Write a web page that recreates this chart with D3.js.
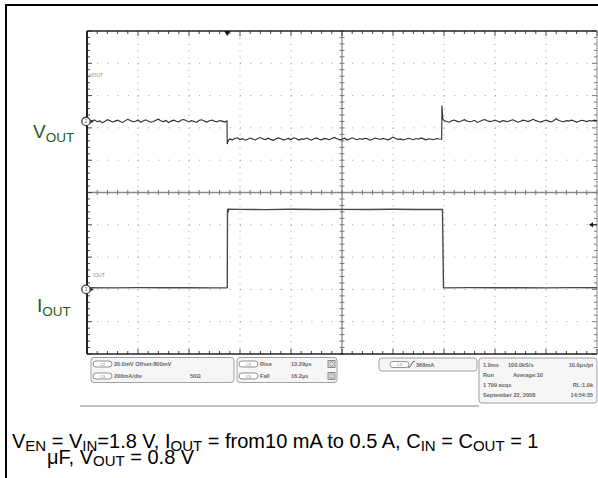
<!DOCTYPE html>
<html><head><meta charset="utf-8">
<script src="https://cdn.jsdelivr.net/npm/d3@7/dist/d3.min.js"></script>
<style>html,body{margin:0;padding:0;background:#fff;}svg{display:block;}</style>
</head><body><svg id="c" width="598" height="478"></svg>
<script>
// ---------------- DATA ----------------
// Time base: 1.0 ms/div, 10 divisions; times in ms from left edge of screen
const timePerDiv = 1.0;
const sampleStep = 0.05;        // ms between plotted samples
// CH2 (VOUT): 20 mV/div, offset 800 mV, marker at +2.2 div
const vPerDiv = 20, vOffset = 800, vPosition = 2.2;
// CH3 (IOUT): 200 mA/div, marker at -3 div
const iPerDiv = 200, iPosition = -3;
const triggerLevelDiv = -1.0;   // trigger arrow on right edge
const triggerTime = 2.75;       // trigger marker on top edge (ms)

// VOUT samples (mV): before load step (t = 0.00 .. 2.70 ms)
const voutSeg1Start = 0.0;
const voutSeg1 = [
  800.1,799.5,800.6,800.9,799.8,800.3,799.2,800.0,801.1,800.4,
  799.7,800.2,800.8,799.9,799.4,800.5,801.3,800.6,799.8,800.1,
  800.9,799.6,800.3,801.0,800.2,799.5,800.0,800.7,801.4,800.3,
  799.9,800.6,799.3,800.2,800.8,800.1,799.7,800.9,801.2,800.4,
  799.8,800.5,800.0,799.4,800.7,801.0,800.3,799.6,800.4,800.9,
  800.1,799.7,800.5,800.2,799.6];
// load-step transient (ms, mV)
const voutStepDownT = [2.745,2.75,2.76,2.78];
const voutStepDownV = [800.3,786.0,787.2,788.6];
// VOUT at 0.5 A (t = 2.80 .. 6.90 ms)
const voutSeg2Start = 2.8;
const voutSeg2 = [
  789.2,788.6,789.5,789.9,788.8,789.3,788.4,789.0,789.7,789.1,
  788.5,789.4,790.0,789.2,788.7,789.6,788.9,788.3,789.1,789.8,
  789.3,788.6,789.0,789.5,788.8,789.9,789.4,788.5,789.2,788.9,
  789.7,789.1,788.4,789.3,789.8,789.0,788.6,789.5,789.2,788.7,
  789.4,790.1,789.3,788.8,789.0,789.6,788.5,789.2,789.9,789.1,
  788.7,789.4,788.9,789.6,789.2,788.4,789.0,789.7,789.3,788.8,
  789.5,789.1,788.6,789.3,790.3,789.4,788.9,789.2,788.5,789.0,
  789.6,789.1,788.7,789.4,789.0,789.8,789.2,788.6,789.3,789.0,
  788.7,789.4,789.1];
// load-release transient
const voutStepUpT = [6.955,6.96,6.975];
const voutStepUpV = [789.0,809.8,801.6];
// VOUT after release (t = 7.00 .. 10.00 ms)
const voutSeg3Start = 7.0;
const voutSeg3 = [
  800.6,800.0,799.5,800.4,800.9,800.2,799.7,800.5,801.1,800.3,
  799.8,800.1,800.7,799.4,800.0,800.8,801.2,800.4,799.9,800.3,
  800.9,800.1,799.6,800.5,800.2,799.8,800.6,801.0,800.3,799.5,
  800.1,800.8,800.4,799.9,800.6,801.3,800.5,800.0,799.6,800.3,
  800.9,800.2,799.7,800.4,801.7,800.6,800.1,799.8,800.5,800.2,
  800.8,800.3,799.6,800.1,800.7,800.4,799.9,800.6,800.2,800.8,
  800.3];

const ioutTime = [0.0,0.5,1.0,1.5,2.0,2.5,2.74,2.75,2.755,2.765,2.78,3.0,3.5,4.0,4.5,5.0,5.5,6.0,6.5,6.95,6.97,6.99,7.0,7.5,8.0,8.5,9.0,9.5,10.0];
const ioutMa   = [10.5,9.6,10.8,9.9,10.6,9.7,10.3,12,500,478,496,495.5,494.2,496.0,494.8,495.6,494.5,495.9,494.7,495.3,494.8,10.8,9.5,10.7,9.8,10.4,9.6,10.9,10.1];

const chLabels = [ {main:"V", sub:"OUT"}, {main:"I", sub:"OUT"} ];
const caption1 = [["V",0],["EN",1],[" = V",0],["IN",1],["=1.8 V, I",0],["OUT",1],[" = from10 mA to 0.5 A, C",0],["IN",1],[" = C",0],["OUT",1],[" = 1",0]];
const caption2 = [["μF, V",0],["OUT",1],[" = 0.8 V",0]];
const box1Rows = [["C2","20.0mV  Offset:800mV",""],["C3","200mA/div","50Ω"]];
const box2Rows = [["C3","Rise","13.29μs"],["C3","Fall","16.2μs"]];
const box3Text = ["C3","368mA"];
const box4Rows = [["1.0ms","100.0kS/s","10.0μs/pt"],["Run","Average:10",""],["1 799 acqs","","RL:1.0k"],["September 22, 2008","","14:54:35"]];

// ---------------- DRAW ----------------
const svg = d3.select("#c");
const P = {l:87, r:597, t:31, b:354};
const xDiv = d3.scaleLinear().domain([0,10]).range([P.l,P.r]);
const yDiv = d3.scaleLinear().domain([-5,5]).range([P.b,P.t]);
const xT = d3.scaleLinear().domain([0,10*timePerDiv]).range([P.l,P.r]);
const yV = d3.scaleLinear().domain([vOffset-(5+vPosition)*vPerDiv, vOffset+(5-vPosition)*vPerDiv]).range([P.b,P.t]);
const yI = d3.scaleLinear().domain([-(5+iPosition)*iPerDiv, (5-iPosition)*iPerDiv]).range([P.b,P.t]);

// assemble VOUT record
const seg = (start, vals) => vals.map((v,i)=>[start+i*sampleStep, v]);
const voutPts = [].concat(
  seg(voutSeg1Start, voutSeg1),
  voutStepDownT.map((t,i)=>[t, voutStepDownV[i]]),
  seg(voutSeg2Start, voutSeg2),
  voutStepUpT.map((t,i)=>[t, voutStepUpV[i]]),
  seg(voutSeg3Start, voutSeg3));

// outer frame
svg.append("line").attr("x1",5).attr("x2",598).attr("y1",5).attr("y2",5).attr("stroke","#000").attr("stroke-width",2);
svg.append("line").attr("x1",6).attr("x2",6).attr("y1",4).attr("y2",478).attr("stroke","#000").attr("stroke-width",2);

const g = svg.append("g");
const majors = d3.range(1,10);
const minors = d3.range(0,50.5,1).map(d=>d/5);
const stepY = yDiv(0)-yDiv(0.2), stepX = xDiv(0.2)-xDiv(0);
// dotted grid
majors.filter(d=>d!==5).forEach(d=>{
  g.append("line").attr("x1",xDiv(d)).attr("x2",xDiv(d)).attr("y1",P.t).attr("y2",P.b)
   .attr("stroke","#9a9a9a").attr("stroke-width",1).attr("stroke-dasharray",`1 ${stepY-1}`);
});
majors.map(d=>d-5).filter(d=>d!==0).forEach(d=>{
  g.append("line").attr("x1",P.l).attr("x2",P.r).attr("y1",yDiv(d)).attr("y2",yDiv(d))
   .attr("stroke","#9a9a9a").attr("stroke-width",1).attr("stroke-dasharray",`1 ${stepX-1}`);
});
// center lines
g.append("line").attr("x1",P.l).attr("x2",P.r).attr("y1",yDiv(0)).attr("y2",yDiv(0)).attr("stroke","#8a8a8a").attr("stroke-width",1.3);
g.append("line").attr("x1",xDiv(5)).attr("x2",xDiv(5)).attr("y1",P.t).attr("y2",P.b).attr("stroke","#8a8a8a").attr("stroke-width",1.3);
minors.forEach(d=>{
  const x = xDiv(d);
  g.append("line").attr("x1",x).attr("x2",x).attr("y1",yDiv(0)-2.5).attr("y2",yDiv(0)+2.5).attr("stroke","#777");
  g.append("line").attr("x1",x).attr("x2",x).attr("y1",P.t).attr("y2",P.t+(d%1===0?5:3)).attr("stroke","#444");
  g.append("line").attr("x1",x).attr("x2",x).attr("y1",P.b).attr("y2",P.b-(d%1===0?5:3)).attr("stroke","#444");
  const y = yDiv(d-5);
  g.append("line").attr("y1",y).attr("y2",y).attr("x1",xDiv(5)-2.5).attr("x2",xDiv(5)+2.5).attr("stroke","#777");
  g.append("line").attr("y1",y).attr("y2",y).attr("x1",P.l).attr("x2",P.l+(d%1===0?5:3)).attr("stroke","#444");
  g.append("line").attr("y1",y).attr("y2",y).attr("x1",P.r).attr("x2",P.r-(d%1===0?5:3)).attr("stroke","#777");
});
// frame
g.append("line").attr("x1",P.l).attr("x2",P.r).attr("y1",P.t).attr("y2",P.t).attr("stroke","#222").attr("stroke-width",1.6);
g.append("line").attr("x1",P.l).attr("x2",P.r).attr("y1",P.b).attr("y2",P.b).attr("stroke","#222").attr("stroke-width",1.6);
g.append("line").attr("x1",P.l).attr("x2",P.l).attr("y1",P.t).attr("y2",P.b).attr("stroke","#222").attr("stroke-width",2);
g.append("line").attr("x1",P.r).attr("x2",P.r).attr("y1",P.t).attr("y2",P.b).attr("stroke","#888").attr("stroke-width",1);

// traces
const vLine = d3.line().x(d=>xT(d[0])).y(d=>yV(d[1]));
g.append("path").attr("d",vLine(voutPts)).attr("fill","none").attr("stroke","#2b2b2b").attr("stroke-width",1.1);
const iLine = d3.line().x((d,i)=>xT(ioutTime[i])).y(d=>yI(d));
g.append("path").attr("d",iLine(ioutMa)).attr("fill","none").attr("stroke","#4a4a4a").attr("stroke-width",1.4);

// small trace labels
const F = "Liberation Sans, Arial";
g.append("text").attr("x",P.l+2).attr("y",77).attr("font-family",F).attr("font-size",5).attr("fill","#888").text("VOUT");
g.append("text").attr("x",P.l+6).attr("y",yI(0)-12).attr("font-family",F).attr("font-size",5).attr("fill","#888").text("IOUT");

// channel markers
[[yV(vOffset),"2"],[yI(0),"3"]].forEach(([y,n])=>{
  g.append("path").attr("d",`M${P.l+2},${y-2.5}L${P.l+7},${y}L${P.l+2},${y+2.5}Z`).attr("fill","#333");
  g.append("circle").attr("cx",P.l-1).attr("cy",y).attr("r",4.2).attr("fill","#fff").attr("stroke","#444").attr("stroke-width",1.3);
  g.append("text").attr("x",P.l-1).attr("y",y+1.6).attr("text-anchor","middle").attr("font-size",4.5).attr("font-family",F).attr("fill","#666").text(n);
});
// trigger markers
const tx = xT(triggerTime);
g.append("path").attr("d",`M${tx-3},${P.t}L${tx+3},${P.t}L${tx},${P.t+5}Z`).attr("fill","#111");
const ty = yDiv(triggerLevelDiv);
g.append("path").attr("d",`M${P.r-8},${ty}L${P.r-4},${ty-2.5}L${P.r-4},${ty+2.5}Z`).attr("fill","#111");
g.append("line").attr("x1",P.r-4).attr("x2",P.r).attr("y1",ty).attr("y2",ty).attr("stroke","#111");

// big channel labels
const green = "#1c5c1c";
[[chLabels[0],33,yV(vOffset)+17],[chLabels[1],37,yI(0)+23]].forEach(([lab,x,y])=>{
  const t = svg.append("text").attr("x",x).attr("y",y).attr("font-family",F).attr("fill",green);
  t.append("tspan").attr("font-size",19).text(lab.main);
  t.append("tspan").attr("font-size",13.5).attr("dy",3.8).text(lab.sub);
});

// info boxes
function box(x,y,w,h){ svg.append("rect").attr("x",x).attr("y",y).attr("width",w).attr("height",h).attr("rx",3).attr("fill","#f6f6f6").attr("stroke","#a0a0a0").attr("stroke-width",1); }
function pill(x,y,label){
  svg.append("rect").attr("x",x).attr("y",y-3).attr("width",19).attr("height",6).attr("rx",3).attr("fill","#fff").attr("stroke","#777").attr("stroke-width",0.8);
  svg.append("text").attr("x",x+9.5).attr("y",y+1.5).attr("text-anchor","middle").attr("font-size",4).attr("font-family",F).attr("fill","#777").text(label);
}
function small(x,y,s,anchor){ svg.append("text").attr("x",x).attr("y",y+2).attr("text-anchor",anchor||"start").attr("font-size",5.6).attr("font-weight","bold").attr("font-family",F).attr("fill","#666").text(s); }
box(91,357.5,143,25);
box1Rows.forEach((r,i)=>{ const y=364+i*12; pill(93,y,r[0]); small(114,y,r[1]); if(r[2]) small(190,y,r[2]); });
box(237,357.5,100,25);
box2Rows.forEach((r,i)=>{ const y=364+i*12; pill(239,y,r[0]); small(260,y,r[1]); small(291,y,r[2]);
  svg.append("rect").attr("x",328).attr("y",y-3.5).attr("width",7).attr("height",7).attr("fill","#ddd").attr("stroke","#777").attr("stroke-width",0.8);
  svg.append("path").attr("d",`M${329.5},${y-1}L${331.5},${y-2.5}L${333.5},${y-1}M${329.5},${y+1}L${331.5},${y+2.5}L${333.5},${y+1}`).attr("fill","none").attr("stroke","#666").attr("stroke-width",0.7);
});
box(379,358,98,13);
pill(390,364.5,box3Text[0]);
svg.append("path").attr("d","M408,367L410,367L413,361.5L415,361.5").attr("fill","none").attr("stroke","#555").attr("stroke-width",0.9);
small(416,364.5,box3Text[1]);
box(479,358,118,45);
box4Rows.forEach((r,i)=>{ const y=365+i*10; small(483,y,r[0]); if(r[1]) small(i===1?513:508,y,r[1]); if(r[2]) small(593,y,r[2],"end"); });
svg.append("line").attr("x1",80).attr("x2",479).attr("y1",406).attr("y2",406).attr("stroke","#888").attr("stroke-width",1);

// caption
function caption(parts,x,y){
  const t = svg.append("text").attr("x",x).attr("y",y).attr("font-family",F).attr("fill","#000");
  let sub=false;
  parts.forEach(([s,isSub])=>{
    const ts = t.append("tspan").text(s).attr("font-size",isSub?15:20);
    if(isSub && !sub) ts.attr("dy",2.5); else if(!isSub && sub) ts.attr("dy",-2.5);
    sub = !!isSub;
  });
}
caption(caption1,12,448);
caption(caption2,47,463.5);
</script></body></html>
